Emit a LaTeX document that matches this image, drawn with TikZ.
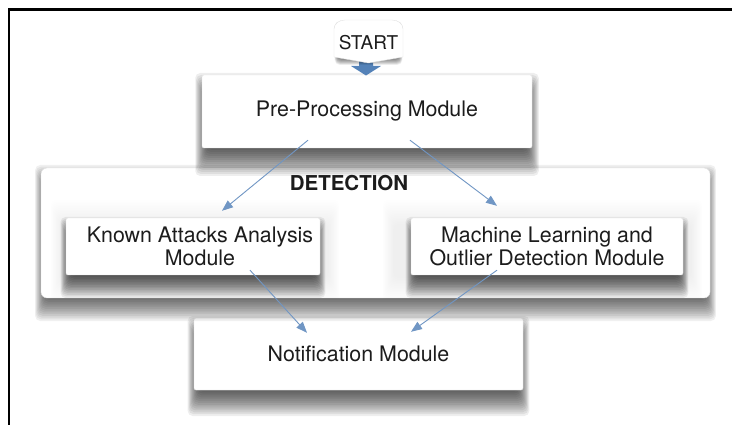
\documentclass[tikz,border=0pt]{standalone}
\usepackage{fontspec}
\setmainfont{TeX Gyre Heros}
\usetikzlibrary{arrows.meta}
\definecolor{arrowblue}{RGB}{112,150,196}
\definecolor{blockblue}{RGB}{84,130,184}
\definecolor{txt}{RGB}{28,28,28}
\tikzset{
  modbox/.style={draw=black!10, fill=white, rounded corners=2pt,
    text=txt, align=center, font=\fontsize{21.4}{23.5}\selectfont, inner sep=0pt},
  panelbox/.style={draw=black!12, fill=white, rounded corners=6pt},
  flow/.style={draw=arrowblue, line width=0.9pt, -{Triangle[length=11pt,width=8.5pt]}},
  shadowstep/.style={fill=black, rounded corners=5pt},
}
% soft shadow: [opacity per step] x1 y1 x2 y2 (pixels, y downward), vertical offset, blur radius
\newcommand\mysoftshadow[7][0.065]{%
  \foreach \k in {0,...,15}{%
    \pgfmathsetmacro\ee{#7*(\k/7.5-1)}%
    \fill[shadowstep, opacity=#1] (#2-0.45*\ee, #3+#6-\ee) rectangle (#4+0.45*\ee, #5+#6+\ee);
  }}
\begin{document}
\begin{tikzpicture}[x=1pt,y=-1pt]
\useasboundingbox (0,0) rectangle (732,425);
% page frame
\draw[line width=2.5pt] (733,9.5) -- (9,9.5) -- (9,426);
% notification module
\mysoftshadow{194}{318}{523}{390}{12}{14}
\node[modbox, minimum width=329pt, minimum height=72pt] (notif) at (358.5,354) {Notification Module};
% detection panel
\mysoftshadow[0.06]{41}{168}{710}{298}{10}{13}
\node[panelbox, minimum width=669pt, minimum height=130pt] (panel) at (375.5,233) {};
\mysoftshadow[0.004]{56}{212}{334}{290}{0}{12}
\mysoftshadow[0.004]{388}{212}{697}{290}{0}{12}
\node[text=txt, font=\fontsize{20.5}{22}\selectfont\bfseries] (det) at (349,183.5) {DETECTION};
% module boxes
\mysoftshadow{66}{218}{320}{275}{11}{12}
\mysoftshadow{411}{218}{683}{275}{11}{12}
\node[modbox, minimum width=254pt, minimum height=57pt] (known) at (193,246.5) {\hspace{14pt}Known Attacks Analysis\\\hspace{14pt}Module};
\node[modbox, minimum width=272pt, minimum height=57pt] (ml) at (547,246.5) {Machine Learning and\\Outlier Detection Module};
% pre-processing
\mysoftshadow{202}{75}{532}{148}{13}{15}
\node[modbox, minimum width=330pt, minimum height=73pt] (pre) at (367,111.5) {Pre-Processing Module};
% block arrow from START
\fill[blockblue] (359,58) -- (373,58) -- (373,66) -- (381,66) -- (366,75.5) -- (351,66) -- (359,66) -- cycle;
% START badge
\mysoftshadow[0.04]{336}{22}{401}{60}{2}{3}
\draw[draw=black!12, fill=white]
  (334,57) -- (334,29) to[out=90,in=180] (345,20) -- (392,20) to[out=0,in=90] (403,29) -- (403,57) -- (368.5,63) -- cycle;
\node[text=txt, font=\fontsize{19}{22}\selectfont] (start) at (368.5,42.5) {START};
% connectors
\draw[flow] ([xshift=-59pt,yshift=8pt]pre.south) -- ([xshift=29pt,yshift=7pt]known.north);
\draw[flow] ([xshift=43pt,yshift=8pt]pre.south) -- ([xshift=-50pt,yshift=12pt]ml.north);
\draw[flow] ([xshift=57pt,yshift=5pt]known.south) -- ([xshift=-51.5pt,yshift=-15pt]notif.north);
\draw[flow] ([xshift=-50pt,yshift=5pt]ml.south) -- ([xshift=52.5pt,yshift=-14pt]notif.north);
\end{tikzpicture}
\end{document}
